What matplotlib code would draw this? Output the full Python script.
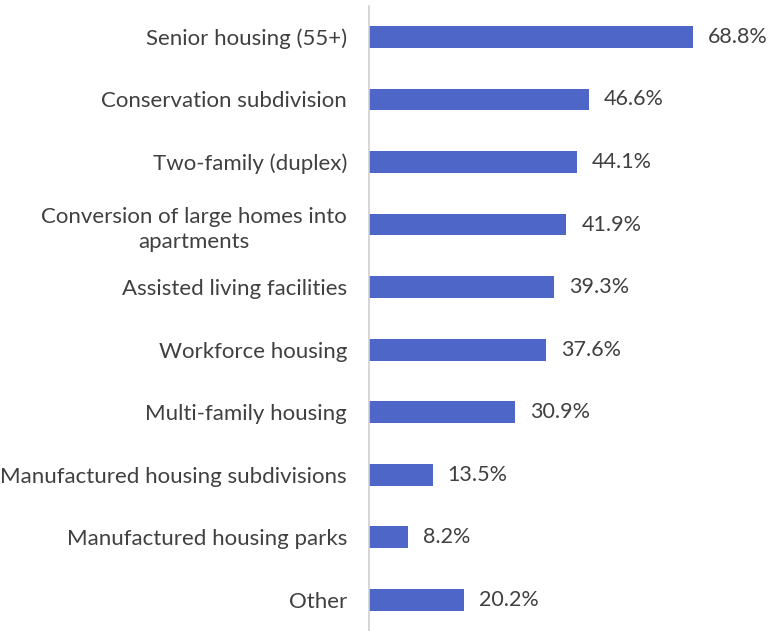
import matplotlib
matplotlib.use('Agg')
import matplotlib.pyplot as plt

plt.rcParams['font.family'] = ['Lato', 'DejaVu Sans']

categories = ['Senior housing (55+)', 'Conservation subdivision', 'Two-family (duplex)',
              'Conversion of large homes into\napartments', 'Assisted living facilities',
              'Workforce housing', 'Multi-family housing', 'Manufactured housing subdivisions',
              'Manufactured housing parks', 'Other']
values = [68.8, 46.6, 44.1, 41.9, 39.3, 37.6, 30.9, 13.5, 8.2, 20.2]

text_color = '#404040'
bar_color = '#4F66C9'

fig = plt.figure(figsize=(7.69, 6.31), dpi=100)
ax = fig.add_axes([0.48, 0.0, 0.49, 0.991])

pos = list(range(len(categories)))
ax.barh(pos, values, height=0.35, color=bar_color)
for p, v in zip(pos, values):
    ax.text(v + 3.2, p, f'{v:.1f}%', va='center', ha='left', fontsize=15.5, color=text_color)

ax.set_ylim(len(categories) - 0.5, -0.5)
ax.set_xlim(0, 80)
ax.set_yticks(pos)
ax.set_yticklabels(categories, fontsize=16, color=text_color, multialignment='center',
                   linespacing=1.35)
ax.tick_params(axis='y', length=0, pad=16)
ax.set_xticks([])
for s in ['top', 'right', 'bottom']:
    ax.spines[s].set_visible(False)
ax.spines['left'].set_color('#D0D0D0')
ax.spines['left'].set_linewidth(1.2)

fig.savefig('out.png', dpi=100)
